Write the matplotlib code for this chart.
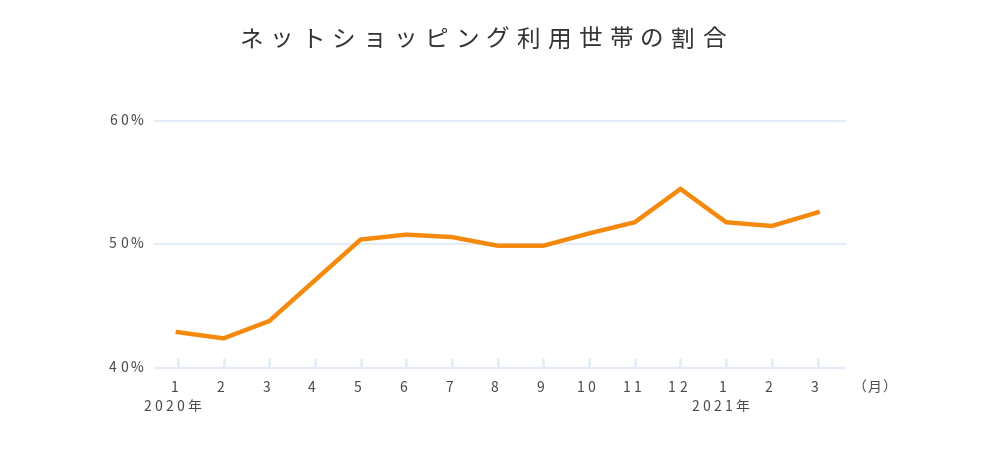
import matplotlib
matplotlib.use("Agg")
import matplotlib.pyplot as plt
from matplotlib.transforms import IdentityTransform

FAMILY = ['Noto Sans CJK JP', 'DejaVu Sans']
plt.rcParams['font.family'] = FAMILY

title = "ネットショッピング利用世帯の割合"
months = ["1", "2", "3", "4", "5", "6", "7", "8", "9", "10", "11", "12", "1", "2", "3"]
year_labels = {0: "2020年", 12: "2021年"}
values = [42.9, 42.4, 43.8, 47.1, 50.4, 50.8, 50.6, 49.9, 49.9, 50.9, 51.8, 54.5, 51.8, 51.5, 52.6]
y_ticks = [40, 50, 60]
y_tick_labels = ["40%", "50%", "60%"]
unit_label = "（月）"

W, H = 1000, 459
fig = plt.figure(figsize=(W / 100, H / 100), dpi=100)
ax = fig.add_axes([155 / W, 1 - 368 / H, (845 - 155) / W, (368 - 121) / H])
ax.set_xlim(-0.5, 14.6)
ax.set_ylim(40, 60)
ax.axis('off')

GRID = '#E4ECF7'
for yv in y_ticks:
    ax.axhline(yv, color=GRID, lw=1.6, clip_on=False, zorder=1)
x = list(range(len(months)))
for xi in x:
    ax.plot([xi, xi], [40, 40.85], color=GRID, lw=1.8, clip_on=False, zorder=1, solid_capstyle='butt')

ax.plot(x, values, color='#F5890C', lw=3.2, zorder=3, solid_joinstyle='miter', clip_on=False)

renderer = fig.canvas.get_renderer()


def spaced(px, py, s, size, spacing, ha='center', va='center', color='#444444', weight='normal'):
    widths = []
    for ch in s:
        t = fig.text(0, 0, ch, fontsize=size, family=FAMILY, fontweight=weight,
                     transform=IdentityTransform())
        widths.append(t.get_window_extent(renderer).width)
        t.remove()
    total = sum(widths) + spacing * len(s)
    if ha == 'center':
        start = px - total / 2
    elif ha == 'right':
        start = px - total
    else:
        start = px
    cx = start
    for ch, w in zip(s, widths):
        fig.text(cx, py, ch, fontsize=size, family=FAMILY, color=color, fontweight=weight,
                 ha='left', va=va, transform=IdentityTransform())
        cx += w + spacing


# title
spaced(486, H - 40, title, 17, 7.2, ha='center', color='#333333')

# y labels
for yv, lab in zip(y_ticks, y_tick_labels):
    _, py = ax.transData.transform((0, yv))
    spaced(147, py, lab, 10, 3.3, ha='right', color='#4a4a4a')

# x labels
for xi, lab in zip(x, months):
    px, _ = ax.transData.transform((xi, 40))
    spaced(px - 1.5, H - 388, lab, 10, 3.3, ha='center', color='#4a4a4a')
for xi, lab in year_labels.items():
    px, _ = ax.transData.transform((xi, 40))
    spaced(px - 4, H - 407, lab, 10, 3.3, ha='center', color='#4a4a4a')

spaced(875, H - 388, unit_label, 10, 1, ha='center', color='#4a4a4a')

fig.savefig("out.png", dpi=100)
